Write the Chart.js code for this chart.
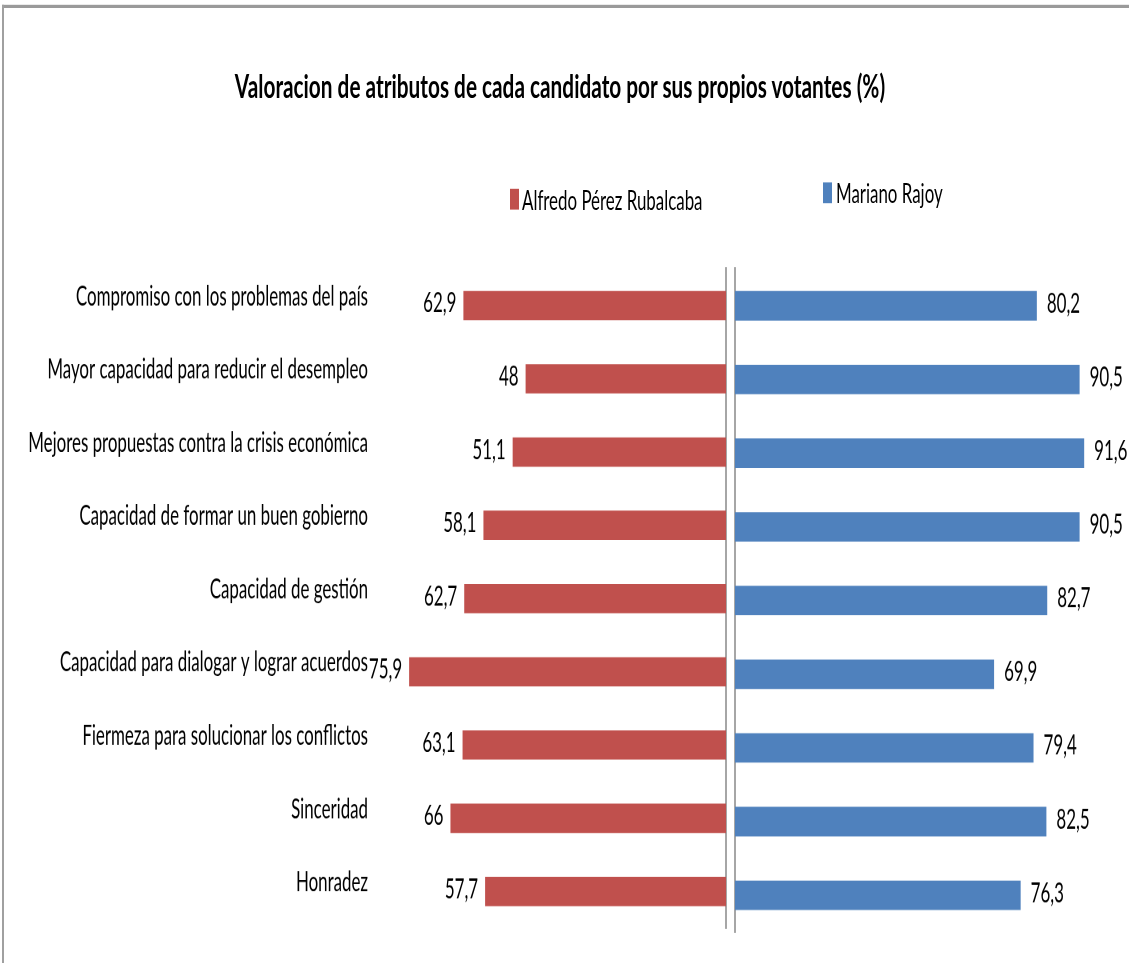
<!DOCTYPE html>
<html>
<head>
<meta charset="utf-8">
<script src="https://cdn.jsdelivr.net/npm/chart.js@4/dist/chart.umd.min.js"></script>
<style>
  html, body { margin: 0; padding: 0; background: #fff; overflow: hidden; }
  /* the reference is a vertically stretched screenshot, so draw shorter and stretch */
  #wrap { position: absolute; left: 0; top: 0; width: 1129px; height: 602px;
          transform: scaleY(1.6); transform-origin: 0 0; font-family: Lato, "Open Sans", sans-serif; }
  .frameTop { position: absolute; left: 2px; top: 3.1px; width: 1200px; height: 1.9px; background: #9a9a9a; }
  .frameLeft { position: absolute; left: 2px; top: 3.1px; width: 2px; height: 700px; background: #a0a0a0; }
  #title { position: absolute; left: 0; width: 1120px; top: 41px; text-align: center;
           font-weight: bold; font-size: 20.8px; line-height: 24px; color: #000; }
  .key { position: absolute; width: 9px; height: 12.5px; }
  .ltxt { position: absolute; font-size: 16.9px; line-height: 20px; color: #000; white-space: nowrap; }
  .box { position: absolute; top: 0; height: 602px; }
</style>
</head>
<body>
<div id="wrap">
  <div class="frameTop"></div>
  <div class="frameLeft"></div>
  <div id="title">Valoracion de atributos de cada candidato por sus propios votantes (%)</div>

  <div class="key" style="left:510px; top:118px; background:#C0504D;"></div>
  <div class="ltxt" style="left:522px; top:115px;">Alfredo Pérez Rubalcaba</div>
  <div class="key" style="left:823px; top:114.4px; background:#4F81BD;"></div>
  <div class="ltxt" style="left:836px; top:111.3px;">Mariano Rajoy</div>

  <div class="box" style="left:0; width:731px;"><canvas id="leftChart"></canvas></div>
  <div class="box" style="left:731px; width:398px;"><canvas id="rightChart"></canvas></div>
</div>

<script>
// Valoracion de atributos - butterfly chart (two horizontal bar charts side by side)

const categories = [
  'Compromiso con los problemas del país',
  'Mayor capacidad para reducir el desempleo',
  'Mejores propuestas contra la crisis económica',
  'Capacidad de formar un buen gobierno',
  'Capacidad de gestión',
  'Capacidad para dialogar y lograr acuerdos',
  'Fiermeza para solucionar los conflictos',
  'Sinceridad',
  'Honradez'
];
const rubalcaba = [62.9, 48, 51.1, 58.1, 62.7, 75.9, 63.1, 66, 57.7];
const rajoy = [80.2, 90.5, 91.6, 90.5, 82.7, 69.9, 79.4, 82.5, 76.3];

const RED = '#C0504D';
const BLUE = '#4F81BD';
const AXIS_GREY = '#a6a6a6';
const FONT = { family: 'Lato, "Open Sans", sans-serif', size: 16.9 };

// value labels next to the bar ends, decimal comma like the original
const valueLabels = {
  id: 'valueLabels',
  afterDatasetsDraw(chart, args, opts) {
    const ctx = chart.ctx;
    const meta = chart.getDatasetMeta(0);
    const data = chart.data.datasets[0].data;
    ctx.save();
    ctx.font = `${FONT.size}px ${FONT.family}`;
    ctx.fillStyle = '#000';
    ctx.textBaseline = 'middle';
    ctx.textAlign = opts.side === 'left' ? 'right' : 'left';
    meta.data.forEach((bar, i) => {
      const txt = String(data[i]).replace('.', ',');
      const x = opts.side === 'left' ? bar.x - 7 : bar.x + 10;
      ctx.fillText(txt, x, bar.y - 1.2);
    });
    ctx.restore();
  }
};

const leftChart = new Chart(document.getElementById('leftChart'), {
  type: 'bar',
  data: {
    labels: categories,
    datasets: [{
      label: 'Alfredo Pérez Rubalcaba',
      data: rubalcaba,
      backgroundColor: RED,
      categoryPercentage: 0.4,
      barPercentage: 1
    }]
  },
  options: {
    indexAxis: 'y',
    responsive: true,
    maintainAspectRatio: false,
    devicePixelRatio: 2,
    animation: false,
    layout: { padding: { top: 168.1, bottom: 21.9, right: 5, left: 0 } },
    scales: {
      x: { display: false, reverse: true, min: 0, max: 80 },
      y: {
        position: 'left',
        grid: { display: false, drawTicks: false },
        border: { display: false },
        ticks: { color: '#000', font: FONT, padding: 24, labelOffset: -5.6, autoSkip: false },
        afterFit: (scale) => {
          scale.width = 392;
          // don't let the tick padding push the plot area around
          scale.paddingTop = 0;
          scale.paddingBottom = 0;
        }
      },
      y2: {
        type: 'category',
        position: 'right',
        display: true,
        grid: { display: false, drawTicks: false },
        border: { display: true, color: AXIS_GREY, width: 2 },
        ticks: { display: false },
        afterFit: (scale) => { scale.width = 0; }
      }
    },
    plugins: {
      legend: { display: false },
      tooltip: { enabled: false },
      valueLabels: { side: 'left' }
    }
  },
  plugins: [valueLabels]
});

const rightChart = new Chart(document.getElementById('rightChart'), {
  type: 'bar',
  data: {
    labels: categories,
    datasets: [{
      label: 'Mariano Rajoy',
      data: rajoy,
      backgroundColor: BLUE,
      categoryPercentage: 0.4,
      barPercentage: 1
    }]
  },
  options: {
    indexAxis: 'y',
    responsive: true,
    maintainAspectRatio: false,
    devicePixelRatio: 2,
    animation: false,
    layout: { padding: { top: 168.1, bottom: 19.4, right: 17, left: 0 } },
    scales: {
      x: { display: false, min: 7.5, max: 98.3 },
      y: {
        position: 'left',
        grid: { display: false, drawTicks: false },
        border: { display: true, color: AXIS_GREY, width: 2 },
        ticks: { display: false },
        afterFit: (scale) => { scale.width = 4; }
      }
    },
    plugins: {
      legend: { display: false },
      tooltip: { enabled: false },
      valueLabels: { side: 'right' }
    }
  },
  plugins: [valueLabels]
});
</script>
</body>
</html>
